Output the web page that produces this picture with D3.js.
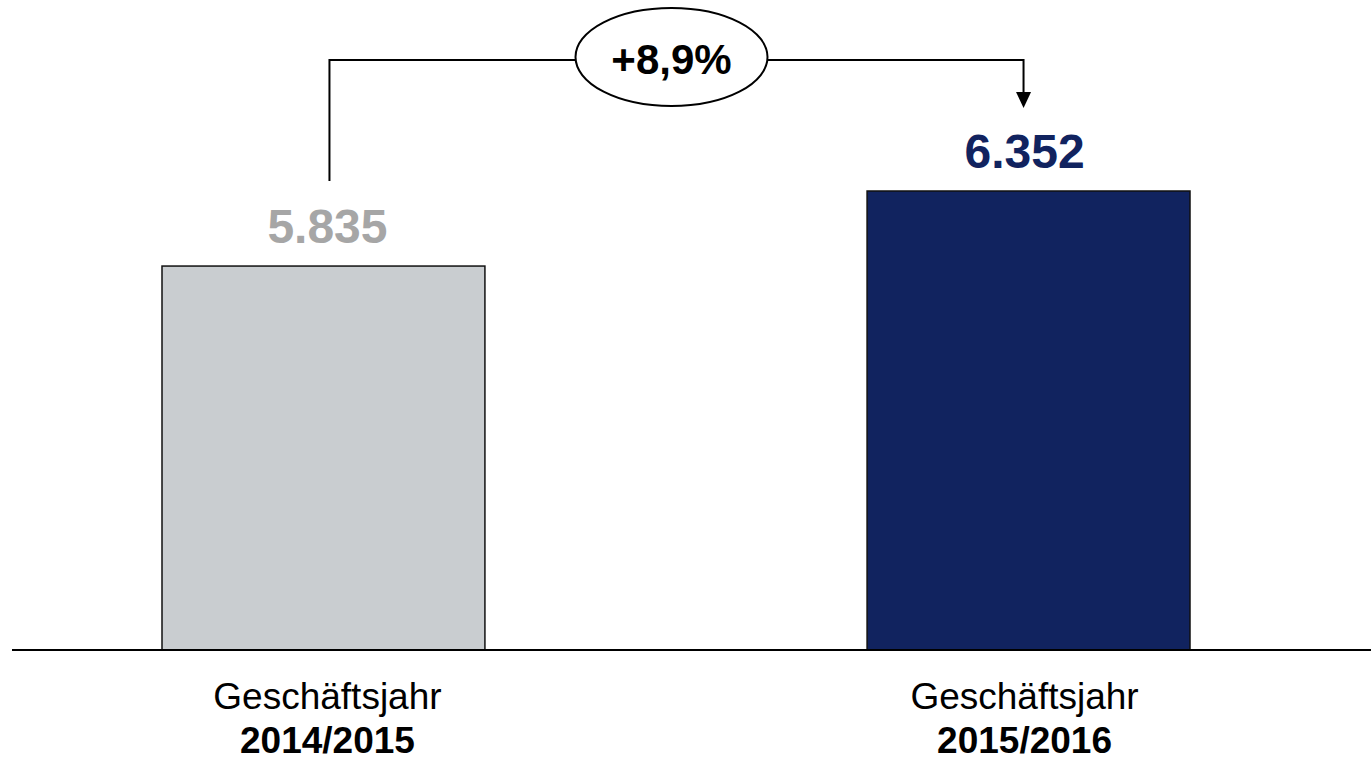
<!DOCTYPE html>
<html>
<head>
<meta charset="utf-8">
<script src="https://cdn.jsdelivr.net/npm/d3@7"></script>
<style>
  body { margin: 0; background: #fff; }
  text { font-family: "Liberation Sans", Arial, sans-serif; }
</style>
</head>
<body>
<svg id="chart" width="1371" height="760"></svg>
<script>
// chart values
const categories = ["2014/2015", "2015/2016"];
const categoryPrefix = ["Geschäftsjahr", "Geschäftsjahr"];
const values = [5835, 6352];
const valueLabels = ["5.835", "6.352"];
const changeLabel = "+8,9%";
const barColors = ["#c9cdd0", "#11235f"];
const labelColors = ["#a6a6a6", "#11235f"];
const axisFloor = 3190; // the bars do not start at zero

var svg = d3.select('#chart');
var baseY = 650;
var topY = 191;

var xBand = d3.scaleBand()
  .domain(categories)
  .range([162, 1190])
  .paddingInner(0.542)
  .paddingOuter(0);

var yScale = d3.scaleLinear()
  .domain([axisFloor, d3.max(values)])
  .range([baseY, topY]);

var data = categories.map((c, i) => ({ cat: c, value: values[i], label: valueLabels[i], i: i }));

// bars
svg.selectAll('.bar')
  .data(data)
  .enter()
  .append('rect')
  .attr('class', 'bar')
  .attr('x', d => xBand(d.cat))
  .attr('y', d => yScale(d.value))
  .attr('width', xBand.bandwidth())
  .attr('height', d => baseY - yScale(d.value))
  .attr('fill', d => barColors[d.i])
  .attr('stroke', '#111')
  .attr('stroke-width', 1.5);

// baseline
svg.append('line')
  .attr('x1', 12).attr('x2', 1371)
  .attr('y1', baseY).attr('y2', baseY)
  .attr('stroke', '#000')
  .attr('stroke-width', 2);

var mid = d => xBand(d.cat) + xBand.bandwidth() / 2;
// labels sit a little toward the middle of the chart
var labelX = d => mid(d) + (d.i === 0 ? 4 : -4);

// value labels
svg.selectAll('.val')
  .data(data)
  .enter()
  .append('text')
  .attr('class', 'val')
  .attr('x', labelX)
  .attr('y', d => yScale(d.value) - 23)
  .attr('text-anchor', 'middle')
  .attr('font-size', '48px')
  .attr('font-weight', 'bold')
  .attr('fill', d => labelColors[d.i])
  .text(d => d.label);

// category labels
var catG = svg.selectAll('.cat')
  .data(data)
  .enter()
  .append('text')
  .attr('class', 'cat')
  .attr('text-anchor', 'middle');
catG.append('tspan')
  .attr('x', labelX)
  .attr('y', 709)
  .attr('font-size', '37px')
  .text(d => categoryPrefix[d.i]);
catG.append('tspan')
  .attr('x', labelX)
  .attr('y', 753)
  .attr('font-size', '37px')
  .attr('font-weight', 'bold')
  .text(d => d.cat);

// connector with change bubble
var x0 = mid(data[0]) + 6;
var x1 = mid(data[1]) - 5;
var lineY = 60;
var startY = yScale(values[0]) - 85;
var arrowTip = yScale(values[1]) - 83;

svg.append('path')
  .attr('d', `M${x0},${startY} V${lineY} H${x1} V${arrowTip - 14}`)
  .attr('fill', 'none')
  .attr('stroke', '#000')
  .attr('stroke-width', 2);

svg.append('path')
  .attr('d', `M${x1 - 7.5},${arrowTip - 16} L${x1 + 7.5},${arrowTip - 16} L${x1},${arrowTip} Z`)
  .attr('fill', '#000');

var cx = (x0 + x1) / 2 - 5;
svg.append('ellipse')
  .attr('cx', cx)
  .attr('cy', 57)
  .attr('rx', 96)
  .attr('ry', 49)
  .attr('fill', '#fff')
  .attr('stroke', '#000')
  .attr('stroke-width', 2);

svg.append('text')
  .attr('x', cx)
  .attr('y', 74)
  .attr('text-anchor', 'middle')
  .attr('font-size', '42px')
  .attr('font-weight', 'bold')
  .attr('fill', '#000')
  .text(changeLabel);
</script>
</body>
</html>
